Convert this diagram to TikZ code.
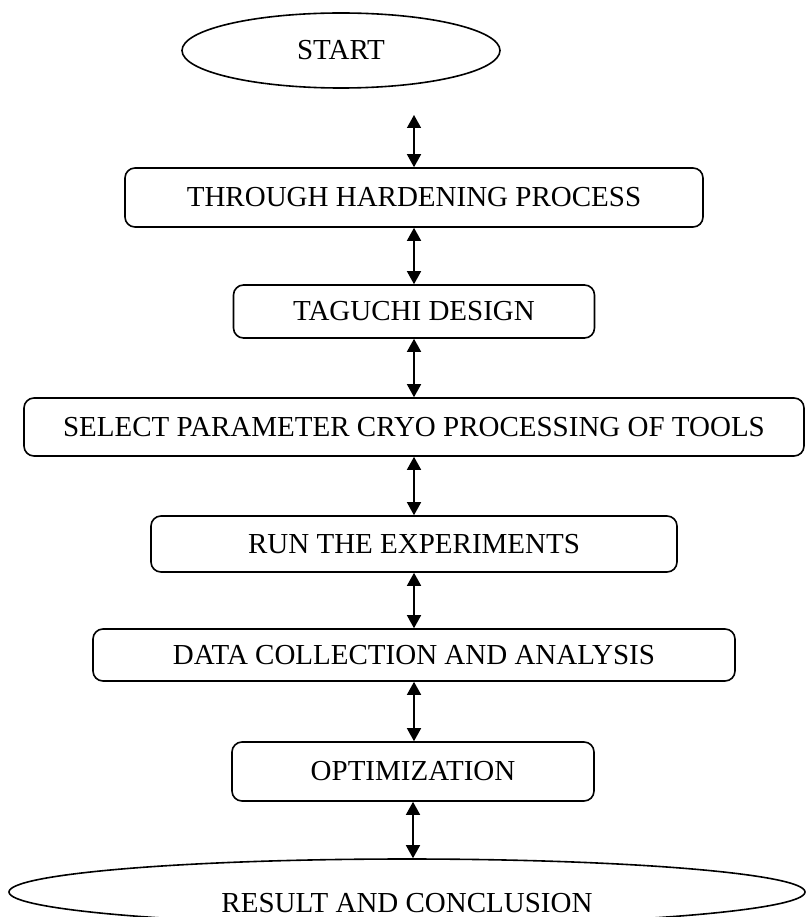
\documentclass[tikz,border=0pt]{standalone}
\usepackage{fontspec}
\setmainfont{Liberation Serif}
\usetikzlibrary{shapes.geometric,arrows.meta}
\tikzset{
  box/.style={draw, line width=1.6pt, rounded corners=10pt, inner sep=0pt, align=center},
  oval/.style={draw, line width=1.6pt, ellipse, inner sep=0pt},
  arr/.style={line width=1.5pt, {Triangle[length=13pt,width=14pt]}-{Triangle[length=13pt,width=14pt]}},
  lbl/.style={inner sep=0pt}
}
\begin{document}
\begin{tikzpicture}[x=1pt,y=-1pt]
\fontsize{29}{34}\selectfont
\useasboundingbox (0,0) rectangle (809,917);
\clip (0,0) rectangle (809,917);
\node[oval, minimum width=318pt, minimum height=75pt] (start) at (341,50.5) {START};
\node[box, minimum width=578pt, minimum height=59pt] (b1) at (414,197.5) {THROUGH HARDENING PROCESS};
\node[box, minimum width=361pt, minimum height=53pt] (b2) at (414,311.5) {TAGUCHI DESIGN};
\node[box, minimum width=780pt, minimum height=58pt] (b3) at (414,427) {SELECT PARAMETER CRYO PROCESSING OF TOOLS};
\node[box, minimum width=526pt, minimum height=56pt] (b4) at (414,544) {RUN THE EXPERIMENTS};
\node[box, minimum width=642pt, minimum height=52pt] (b5) at (414,655) {DATA COLLECTION AND ANALYSIS};
\node[box, minimum width=362pt, minimum height=59pt] (b6) at (413,771.5) {OPTIMIZATION};
\node[oval, minimum width=796pt, minimum height=66pt] (end) at (407,892) {};
\node[lbl] (endtxt) at (407,903) {RESULT AND CONCLUSION};
\coordinate (a1) at (414,115);
\draw[arr] (a1) -- (a1 |- b1.north);
\draw[arr] (b1.south) -- (b1.south |- b2.north);
\draw[arr] (b2.south) -- (b2.south |- b3.north);
\draw[arr] (b3.south) -- (b3.south |- b4.north);
\draw[arr] (b4.south) -- (b4.south |- b5.north);
\draw[arr] (b5.south) -- (b5.south |- b6.north);
\draw[arr] (b6.south) -- (b6.south |- end.north);
\end{tikzpicture}
\end{document}
